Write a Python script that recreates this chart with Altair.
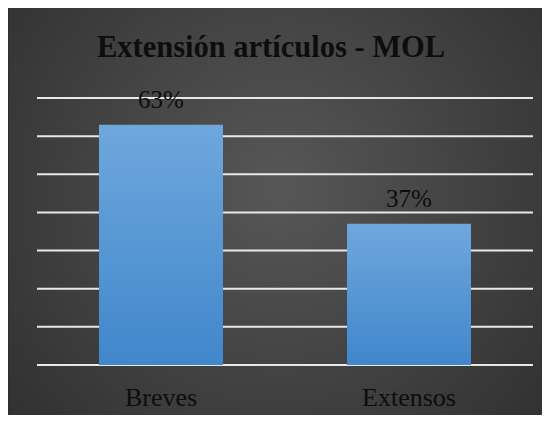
import altair as alt
import pandas as pd

categories = ["Breves", "Extensos"]
shares = [0.63, 0.37]
grid_values = [0, 0.1, 0.2, 0.3, 0.4, 0.5, 0.6, 0.7]
title_text = "Extensión artículos - MOL"

df = pd.DataFrame({"cat": categories, "share": shares})
grid_df = pd.DataFrame({"v": grid_values})

W, H = 496, 267
PAD = {"left": 29, "top": 90, "right": 9, "bottom": 50}
FONT = "Liberation Serif"

x_enc = alt.X(
    "cat:N",
    sort=categories,
    scale=alt.Scale(paddingInner=0.5, paddingOuter=0.25),
    axis=alt.Axis(
        title=None, labelAngle=0, labelFont=FONT, labelFontSize=26,
        labelColor="#0d0d0d", labelPadding=40, labelBaseline="alphabetic",
        domain=False, ticks=False, tickSize=0, grid=False, zindex=1,
    ),
)
y_scale = alt.Scale(domain=[0, 0.7], nice=False, zero=True)

bg = alt.Chart(alt.Data(values=[{}])).mark_rect(
    clip=False,
    fill=alt.RadialGradient(
        gradient="radial",
        stops=[alt.GradientStop(offset=0, color="#575757"),
               alt.GradientStop(offset=1, color="#2b2b2b")],
        x1=0.5, y1=0.45, r1=0, x2=0.5, y2=0.45, r2=0.75,
    ),
).encode(
    x=alt.value(-PAD["left"] + 1), x2=alt.value(W + PAD["right"] + 8),
    y=alt.value(-PAD["top"]), y2=alt.value(H + PAD["bottom"] + 8),
)

rules = alt.Chart(grid_df).mark_rule(color="#e8e8e8", strokeWidth=2).encode(
    y=alt.Y("v:Q", scale=y_scale, axis=None)
)

bars = alt.Chart(df).mark_bar(
    fill=alt.LinearGradient(
        gradient="linear",
        stops=[alt.GradientStop(offset=0, color="#6fa7dd"),
               alt.GradientStop(offset=1, color="#4087cb")],
        x1=0, x2=0, y1=0, y2=1,
    )
).encode(x=x_enc, y=alt.Y("share:Q", scale=y_scale, axis=None))

labels = alt.Chart(df).mark_text(
    font=FONT, fontSize=25, color="#0d0d0d", baseline="alphabetic", dy=-17
).encode(
    x=x_enc, y=alt.Y("share:Q", scale=y_scale, axis=None),
    text=alt.Text("share:Q", format=".0%"),
)

title = alt.Chart(alt.Data(values=[{"t": title_text}])).mark_text(
    font=FONT, fontSize=30.5, fontWeight="bold", color="#0d0d0d",
    baseline="alphabetic", align="center", clip=False,
).encode(text="t:N", x=alt.value(234), y=alt.value(-41))

chart = alt.layer(bg, rules, bars, labels, title).properties(
    width=W, height=H,
    autosize=alt.AutoSizeParams(type="none"),
    padding=PAD,
    background="#2e2e2e",
).configure_view(stroke=None)

chart.save("out.html", embed_options={"renderer": "svg", "actions": False})
